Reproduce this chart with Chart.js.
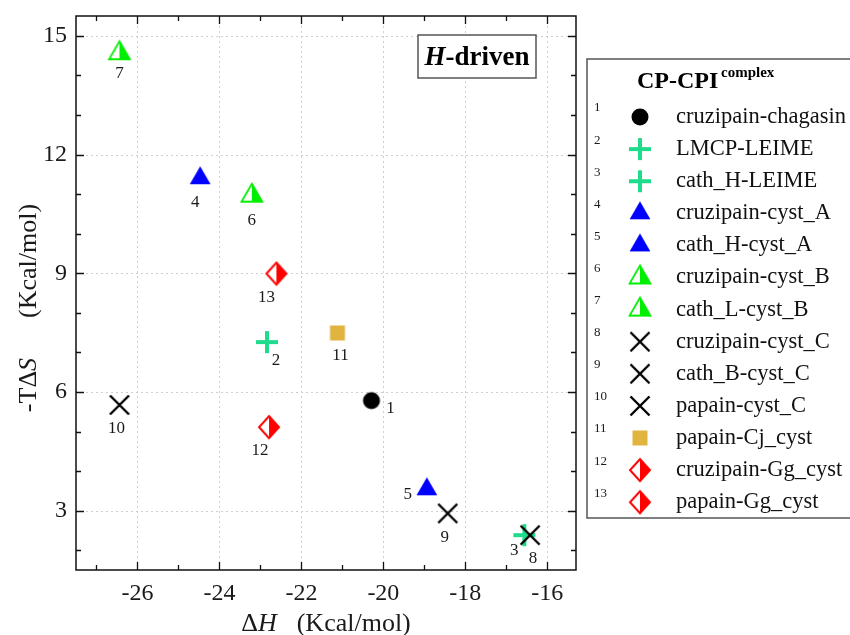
<!DOCTYPE html>
<html>
<head>
<meta charset="utf-8">
<title>CP-CPI thermodynamics</title>
<script src="https://cdn.jsdelivr.net/npm/chart.js@4.4.1/dist/chart.umd.min.js"></script>
<style>
  html, body { margin: 0; padding: 0; background: #fff; }
  #wrap { width: 850px; height: 635px; position: relative; }
</style>
</head>
<body>
<div id="wrap"><canvas id="thermoChart" width="850" height="635"></canvas></div>
<script>
// --- data ---
const complexNames = [
    'cruzipain-chagasin', 'LMCP-LEIME', 'cath_H-LEIME', 'cruzipain-cyst_A',
    'cath_H-cyst_A', 'cruzipain-cyst_B', 'cath_L-cyst_B', 'cruzipain-cyst_C',
    'cath_B-cyst_C', 'papain-cyst_C', 'papain-Cj_cyst', 'cruzipain-Gg_cyst',
    'papain-Gg_cyst'
];
const deltaH   = [-20.29, -22.84, -16.56, -24.47, -18.94, -23.21, -26.44, -16.42, -18.43, -26.44, -21.12, -22.79, -22.61];
const minusTdS = [5.78, 7.26, 2.38, 11.40, 3.54, 10.96, 14.56, 2.38, 2.93, 5.67, 7.49, 5.11, 8.99];
const xTickLabels = [-26, -24, -22, -20, -18, -16];
const yTickLabels = [3, 6, 9, 12, 15];

// --- marker styles ---
const markerKinds = ['circle', 'plus', 'plus', 'triangle', 'triangle', 'halfTriangle', 'halfTriangle',
                     'cross', 'cross', 'cross', 'square', 'halfDiamond', 'halfDiamond'];
const markerColors = ['#000000', '#1fdc8c', '#1fdc8c', '#0000ff', '#0000ff', '#00ee00', '#00ee00',
                      '#000000', '#000000', '#000000', '#e1b440', '#ff0000', '#ff0000'];
// offset of the number printed next to each point, in px
const numberOffsets = [[19, 8], [9, 18], [-10, 15], [-5, 24], [-19, 5], [0, 25], [0, 20],
                       [3, 23], [-3, 24], [-3, 24], [3, 23], [-9, 23], [-10, 24]];

const SERIF = "'Liberation Serif', 'Times New Roman', serif";
const INK = '#1a1a1a';

function makeMarker(kind, color) {
    const c = document.createElement('canvas');
    c.width = 28; c.height = 28;
    const g = c.getContext('2d');
    const m = 14;
    g.fillStyle = color;
    g.strokeStyle = color;
    g.lineJoin = 'miter';
    if (kind === 'circle') {
        g.beginPath(); g.arc(m, m, 8.5, 0, Math.PI * 2); g.fill();
    } else if (kind === 'plus') {
        g.lineWidth = 4;
        g.beginPath();
        g.moveTo(m - 11, m); g.lineTo(m + 11, m);
        g.moveTo(m, m - 11); g.lineTo(m, m + 11);
        g.stroke();
    } else if (kind === 'cross') {
        g.lineWidth = 2.4;
        const d = 9.5;
        g.beginPath();
        g.moveTo(m - d, m - d); g.lineTo(m + d, m + d);
        g.moveTo(m + d, m - d); g.lineTo(m - d, m + d);
        g.stroke();
    } else if (kind === 'square') {
        g.fillRect(m - 7.5, m - 7.5, 15, 15);
    } else if (kind === 'triangle' || kind === 'halfTriangle') {
        const w = 10.4;
        g.beginPath();
        g.moveTo(m, m - 12); g.lineTo(m + w, m + 6); g.lineTo(m - w, m + 6); g.closePath();
        if (kind === 'triangle') {
            g.fill();
        } else {
            g.fillStyle = '#fff'; g.fill();
            g.fillStyle = color;
            g.beginPath();
            g.moveTo(m, m - 12); g.lineTo(m + w, m + 6); g.lineTo(m, m + 6); g.closePath();
            g.fill();
            g.lineWidth = 1.8;
            g.beginPath();
            g.moveTo(m, m - 12); g.lineTo(m + w, m + 6); g.lineTo(m - w, m + 6); g.closePath();
            g.stroke();
        }
    } else if (kind === 'halfDiamond') {
        const w = 10, h = 11;
        g.beginPath();
        g.moveTo(m, m - h); g.lineTo(m + w, m); g.lineTo(m, m + h); g.lineTo(m - w, m); g.closePath();
        g.fillStyle = '#fff'; g.fill();
        g.fillStyle = color;
        g.beginPath();
        g.moveTo(m, m - h); g.lineTo(m + w, m); g.lineTo(m, m + h); g.closePath();
        g.fill();
        g.lineWidth = 2;
        g.beginPath();
        g.moveTo(m, m - h); g.lineTo(m + w, m); g.lineTo(m, m + h); g.lineTo(m - w, m); g.closePath();
        g.stroke();
    }
    return c;
}

// draws a run of text pieces (each with its own font, or a blank gap), centred on x
function drawRich(ctx, parts, x, y) {
    let total = 0;
    parts.forEach(p => {
        if (p.gap) { p.w = p.gap; } else { ctx.font = p.font; p.w = ctx.measureText(p.text).width; }
        total += p.w;
    });
    let cx = x - total / 2;
    ctx.textAlign = 'left';
    parts.forEach(p => {
        if (!p.gap) { ctx.font = p.font; ctx.fillText(p.text, cx, y); }
        cx += p.w;
    });
}

// grid, frame, inward ticks, titles, point numbers and the boxed legend
const decorPlugin = {
    id: 'decor',
    beforeDatasetsDraw(chart) {
        const { ctx, chartArea: a, scales: { x, y } } = chart;
        ctx.save();
        ctx.strokeStyle = '#cfcfcf';
        ctx.lineWidth = 1;
        ctx.setLineDash([2, 3]);
        xTickLabels.forEach(v => {
            const px = Math.round(x.getPixelForValue(v)) + 0.5;
            ctx.beginPath(); ctx.moveTo(px, a.top); ctx.lineTo(px, a.bottom); ctx.stroke();
        });
        yTickLabels.forEach(v => {
            const py = Math.round(y.getPixelForValue(v)) + 0.5;
            ctx.beginPath(); ctx.moveTo(a.left, py); ctx.lineTo(a.right, py); ctx.stroke();
        });
        ctx.restore();
    },
    afterDatasetsDraw(chart) {
        const { ctx, chartArea: a, scales: { x, y } } = chart;
        ctx.save();

        // numbers beside the points
        ctx.fillStyle = INK;
        ctx.font = '17px ' + SERIF;
        ctx.textAlign = 'center';
        ctx.textBaseline = 'middle';
        chart.data.datasets.forEach((ds, i) => {
            const pt = chart.getDatasetMeta(i).data[0];
            ctx.fillText(String(i + 1), pt.x + numberOffsets[i][0], pt.y + numberOffsets[i][1]);
        });

        // frame
        ctx.strokeStyle = '#111';
        ctx.lineWidth = 1.5;
        ctx.strokeRect(a.left, a.top, a.right - a.left, a.bottom - a.top);

        // inward ticks on all four sides
        ctx.lineWidth = 1.3;
        for (let v = Math.ceil(x.min); v <= x.max; v++) {
            const px = Math.round(x.getPixelForValue(v)) + 0.5;
            const len = v % 2 === 0 ? 8 : 5;
            ctx.beginPath();
            ctx.moveTo(px, a.bottom); ctx.lineTo(px, a.bottom - len);
            ctx.moveTo(px, a.top); ctx.lineTo(px, a.top + len);
            ctx.stroke();
        }
        for (let v = Math.ceil(y.min); v <= y.max; v++) {
            const py = Math.round(y.getPixelForValue(v)) + 0.5;
            const len = v % 3 === 0 ? 8 : 5;
            ctx.beginPath();
            ctx.moveTo(a.left, py); ctx.lineTo(a.left + len, py);
            ctx.moveTo(a.right, py); ctx.lineTo(a.right - len, py);
            ctx.stroke();
        }

        // axis titles
        ctx.fillStyle = INK;
        ctx.textBaseline = 'middle';
        drawRich(ctx, [
            { text: 'Δ', font: '26px ' + SERIF },
            { text: 'H', font: 'italic 26px ' + SERIF },
            { gap: 20 },
            { text: '(Kcal/mol)', font: '26px ' + SERIF }
        ], (a.left + a.right) / 2, 624);
        ctx.save();
        ctx.translate(29, 308);
        ctx.rotate(-Math.PI / 2);
        drawRich(ctx, [
            { text: '-TΔ', font: '26px ' + SERIF },
            { text: 'S', font: 'italic 26px ' + SERIF },
            { gap: 40 },
            { text: '(Kcal/mol)', font: '26px ' + SERIF }
        ], 0, 0);
        ctx.restore();

        // regime tag
        ctx.lineWidth = 1.5;
        ctx.strokeStyle = '#555';
        ctx.fillStyle = '#fff';
        ctx.fillRect(418, 35, 118, 43);
        ctx.strokeRect(418, 35, 118, 43);
        ctx.fillStyle = '#000';
        drawRich(ctx, [
            { text: 'H', font: 'italic bold 27px ' + SERIF },
            { text: '-driven', font: 'bold 27px ' + SERIF }
        ], 477, 58);

        // legend box
        ctx.strokeStyle = '#555';
        ctx.lineWidth = 1.5;
        ctx.strokeRect(587, 59, 280, 459);
        ctx.fillStyle = '#000';
        ctx.textAlign = 'left';
        ctx.textBaseline = 'alphabetic';
        ctx.font = 'bold 24px ' + SERIF;
        ctx.fillText('CP-CPI', 637, 88);
        ctx.font = 'bold 15px ' + SERIF;
        ctx.fillText('complex', 721, 77);

        chart.data.datasets.forEach((ds, i) => {
            const rowY = 117 + i * 32.1;
            ctx.fillStyle = INK;
            ctx.textBaseline = 'middle';
            ctx.font = '13px ' + SERIF;
            ctx.fillText(String(i + 1), 594, rowY - 9);
            const img = ds.pointStyle;
            ctx.drawImage(img, 640 - img.width / 2, rowY - img.height / 2);
            ctx.font = '22.5px ' + SERIF;
            ctx.fillStyle = '#111';
            ctx.fillText(ds.label, 676, rowY);
        });
        ctx.restore();
    }
};

const datasets = complexNames.map((name, i) => ({
    label: name,
    data: [{ x: deltaH[i], y: minusTdS[i] }],
    pointStyle: makeMarker(markerKinds[i], markerColors[i]),
    pointRadius: 10,
    pointHoverRadius: 10,
    order: -i   // later complexes drawn on top
}));

const tickFont = { family: SERIF, size: 24 };

new Chart(document.getElementById('thermoChart').getContext('2d'), {
    type: 'scatter',
    data: { datasets: datasets },
    options: {
        responsive: false,
        animation: false,
        events: [],
        layout: { padding: { top: 16, right: 274, left: 0, bottom: 0 } },
        plugins: {
            legend: { display: false },
            tooltip: { enabled: false }
        },
        scales: {
            x: {
                type: 'linear',
                min: -27.5,
                max: -15.3,
                grid: { display: false, drawTicks: false },
                border: { display: false },
                afterBuildTicks: s => { s.ticks = xTickLabels.map(v => ({ value: v })); },
                afterFit: s => { s.height = 65; s.paddingLeft = 0; s.paddingRight = 0; },
                ticks: { font: tickFont, color: INK, padding: 9, callback: v => String(v), maxRotation: 0 }
            },
            y: {
                type: 'linear',
                min: 1.5,
                max: 15.5,
                grid: { display: false, drawTicks: false },
                border: { display: false },
                afterBuildTicks: s => { s.ticks = yTickLabels.map(v => ({ value: v })); },
                afterFit: s => { s.width = 76; s.paddingTop = 0; s.paddingBottom = 0; },
                ticks: { font: tickFont, color: INK, padding: 9, callback: v => String(v) }
            }
        }
    },
    plugins: [decorPlugin]
});
</script>
</body>
</html>
